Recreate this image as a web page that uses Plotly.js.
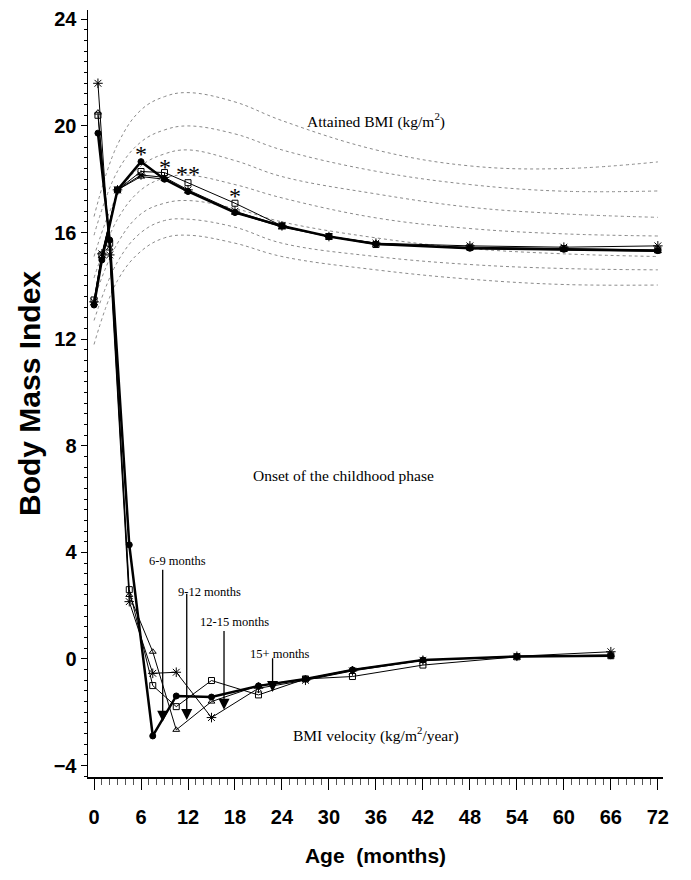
<!DOCTYPE html>
<html>
<head>
<meta charset="utf-8">
<script src="https://cdn.plot.ly/plotly-3.0.1.min.js"></script>
<style>html,body{margin:0;padding:0;background:#fff;}#chart{width:691px;height:880px;}</style>
</head>
<body>
<div id="chart"></div>
<script>
// ---- attained BMI (kg/m2) by age (months) ----
const attainedAges = [0, 1, 3, 6, 9, 12, 18, 24, 30, 36, 48, 60, 72];
const attainedCircle = [13.28, 14.97, 17.6, 18.66, 18.0, 17.54, 16.75, 16.25, 15.85, 15.57, 15.41, 15.37, 15.32];
const attainedSquare = [13.47, 15.16, 17.6, 18.29, 18.25, 17.87, 17.1, 16.25, 15.85, 15.55, 15.45, 15.4, 15.35];
const attainedStar   = [13.4, 15.2, 17.6, 18.16, 18.07, 17.6, 16.8, 16.25, 15.85, 15.6, 15.5, 15.45, 15.5];
const attainedTri    = [13.35, 15.1, 17.6, 18.1, 18.0, 17.55, 16.75, 16.2, 15.85, 15.6, 15.4, 15.35, 15.3];

// ---- BMI velocity (kg/m2/year) at interval midpoints ----
const velocityAges = [0.5, 2, 4.5, 7.5, 10.5, 15, 21, 27, 33, 42, 54, 66];
const velocityCircle = [19.73, 15.72, 4.28, -2.89, -1.39, -1.43, -1.01, -0.75, -0.41, -0.04, 0.09, 0.12];
const velocitySquare = [20.4, 15.6, 2.6, -1.0, -1.79, -0.81, -1.35, -0.75, -0.66, -0.23, 0.08, 0.12];
const velocityStar   = [21.6, 15.16, 2.15, -0.54, -0.5, -2.2, -1.1, -0.8, -0.45, -0.05, 0.1, 0.27];
const velocityTri    = [20.5, 15.4, 2.4, 0.27, -2.66, -1.6, -1.0, -0.75, -0.4, -0.05, 0.09, 0.15];

// ---- reference percentile curves of attained BMI ----
const refAges = [0, 3, 6, 9, 12, 18, 24, 36, 48, 60, 72];
const refCurves = [
  [16.6, 19.3, 20.6, 21.1, 21.25, 20.9, 20.2, 19.1, 18.5, 18.4, 18.65],
  [15.9, 18.3, 19.4, 19.85, 20.0, 19.7, 19.1, 18.3, 17.8, 17.55, 17.56],
  [15.1, 17.4, 18.5, 18.95, 19.1, 18.7, 18.1, 17.45, 16.95, 16.7, 16.57],
  [14.3, 16.5, 17.6, 18.05, 18.15, 17.8, 17.3, 16.55, 16.15, 15.95, 15.87],
  [13.5, 15.6, 16.7, 17.1, 17.2, 16.9, 16.4, 15.8, 15.4, 15.2, 15.1],
  [12.7, 14.9, 16.0, 16.45, 16.5, 16.2, 15.6, 15.1, 14.8, 14.65, 14.6],
  [11.8, 14.2, 15.3, 15.8, 15.9, 15.6, 15.1, 14.6, 14.25, 14.05, 14.03]
];

// ---- axis tick labels ----
const xTickValues = [0, 6, 12, 18, 24, 30, 36, 42, 48, 54, 60, 66, 72];
const xTickLabels = ['0', '6', '12', '18', '24', '30', '36', '42', '48', '54', '60', '66', '72'];
const yTickValues = [-4, 0, 4, 8, 12, 16, 20, 24];
const yTickLabels = ['\u22124', '0', '4', '8', '12', '16', '20', '24'];

// ---- significance marks on attained BMI ----
const sigAges = [6, 9, 12, 18];
const sigLabels = ['*', '*', '**', '*'];
const sigValues = [18.95, 18.45, 18.2, 17.38];

// ---- onset group arrows ----
const onsetLabels = ['6-9 months', '9-12 months', '12-15 months', '15+ months'];

const traces = [];
refCurves.forEach(c => traces.push({
  x: refAges, y: c, mode: 'lines', type: 'scatter', hoverinfo: 'skip',
  line: {color: '#8a8a8a', width: 1, dash: '3px,3px', shape: 'spline', smoothing: 1.1}
}));

function series(x, y, symbol, size, width) {
  return {x: x, y: y, mode: 'lines+markers', type: 'scatter',
    line: {color: '#000', width: width},
    marker: {symbol: symbol, size: size, color: '#000', line: {color: '#000', width: 1}}};
}
traces.push(series(attainedAges, attainedSquare, 'square-open', 6, 1));
traces.push(series(attainedAges, attainedStar, 'asterisk-open', 8, 1));
traces.push(series(attainedAges, attainedTri, 'triangle-up-open', 6, 1));
traces.push(series(attainedAges, attainedCircle, 'circle', 6, 2.5));
traces.push(series(velocityAges, velocitySquare, 'square-open', 6, 1));
traces.push(series(velocityAges, velocityStar, 'asterisk-open', 8, 1));
traces.push(series(velocityAges, velocityTri, 'triangle-up-open', 6, 1));
traces.push(series(velocityAges, velocityCircle, 'circle', 6, 2.5));

const serif = 'Liberation Serif, Times New Roman, serif';
const annotations = [
  {x: 36, y: 20.2, text: 'Attained BMI (kg/m<sup>2</sup>)', showarrow: false, font: {family: serif, size: 15.5, color: '#000'}},
  {x: 20.0, y: 6.9, xanchor: 'left', text: 'Onset of the childhood phase', showarrow: false, font: {family: serif, size: 15.5, color: '#000'}},
  {x: 36, y: -2.85, text: 'BMI velocity (kg/m<sup>2</sup>/year)', showarrow: false, font: {family: serif, size: 15.5, color: '#000'}}
];
sigAges.forEach((a, i) => annotations.push({x: a, y: sigValues[i], text: sigLabels[i], showarrow: false,
  font: {family: serif, size: 24, color: '#000'}}));

const labelPos = [[10.6, 3.68], [14.7, 2.5], [17.9, 1.38], [23.7, 0.2]];
const arrowX = [8.77, 11.84, 16.6, 22.8];
const arrowTail = [3.4, 2.5, 1.1, 0.08];
const arrowTip = [-2.36, -2.29, -1.91, -1.24];
onsetLabels.forEach((t, i) => {
  annotations.push({x: labelPos[i][0], y: labelPos[i][1], text: t, showarrow: false,
    font: {family: serif, size: 12.5, color: '#000'}});
  annotations.push({x: arrowX[i], y: arrowTip[i], ax: arrowX[i], ay: arrowTail[i], axref: 'x', ayref: 'y',
    xref: 'x', yref: 'y', text: '', showarrow: true, arrowhead: 2, arrowsize: 1.7, arrowwidth: 1.3, arrowcolor: '#000'});
});

const sans = 'Liberation Sans, Arial, sans-serif';
const layout = {
  width: 691, height: 880,
  margin: {l: 88, r: 28, t: 10, b: 103},
  paper_bgcolor: '#fff', plot_bgcolor: '#fff',
  showlegend: false,
  xaxis: {
    range: [-0.77, 72.66], tickmode: 'array',
    tickvals: xTickValues, ticktext: xTickLabels.map(t => '<b>' + t + '</b>'),
    showline: true, linecolor: '#000', linewidth: 1.5, showgrid: false, zeroline: false,
    ticks: 'outside', ticklen: 11, tickwidth: 1, tickcolor: '#000', ticklabelstandoff: 10,
    minor: {dtick: 1, ticklen: 6, tickwidth: 1, tickcolor: '#555', ticks: 'outside', showgrid: false},
    tickfont: {family: sans, size: 20, color: '#000'},
    title: {text: '<b>Age  (months)</b>', font: {family: sans, size: 21, color: '#000'}, standoff: 22}
  },
  yaxis: {
    range: [-4.43, 24.35], tickmode: 'array',
    tickvals: yTickValues, ticktext: yTickLabels.map(t => '<b>' + t + '</b>'),
    showline: true, linecolor: '#000', linewidth: 1.5, showgrid: false, zeroline: false,
    ticks: 'outside', ticklen: 6, tickwidth: 1, tickcolor: '#000',
    minor: {dtick: 0.4, ticklen: 3, tickwidth: 1, tickcolor: '#000', ticks: 'outside', showgrid: false},
    tickfont: {family: sans, size: 20, color: '#000'},
    title: {text: '<b>Body Mass Index</b>', font: {family: sans, size: 30, color: '#000'}, standoff: 4}
  },
  annotations: annotations
};
Plotly.newPlot('chart', traces, layout, {displayModeBar: false, staticPlot: true});
</script>
</body>
</html>
